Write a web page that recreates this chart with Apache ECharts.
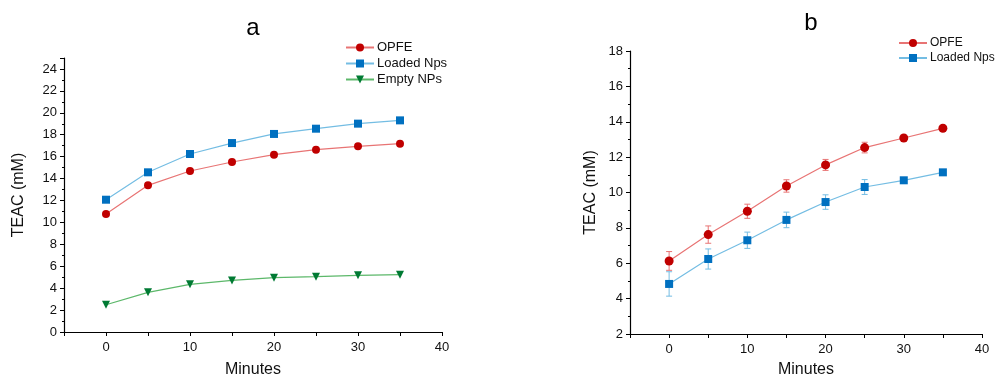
<!DOCTYPE html>
<html>
<head>
<meta charset="utf-8">
<script src="https://cdn.jsdelivr.net/npm/echarts@6/dist/echarts.min.js"></script>
<style>
  html, body { margin: 0; padding: 0; background: #fff; }
  #chart { width: 997px; height: 377px; }
</style>
</head>
<body>
<div id="chart"></div>
<script>
// minutes on x
var minutes = [0, 5, 10, 15, 20, 25, 30, 35];

// panel a
var aOpfe = [10.77, 13.38, 14.69, 15.51, 16.18, 16.64, 16.94, 17.18];
var aLoaded = [12.07, 14.57, 16.24, 17.24, 18.07, 18.55, 19.01, 19.31];
var aEmpty = [2.49, 3.62, 4.35, 4.71, 4.96, 5.05, 5.17, 5.23];

// panel b, with standard deviations
var bOpfe = [6.13, 7.62, 8.94, 10.37, 11.56, 12.54, 13.08, 13.63];
var bOpfeErr = [0.53, 0.49, 0.40, 0.35, 0.31, 0.30, 0.08, 0.06];
var bLoaded = [4.83, 6.24, 7.30, 8.45, 9.46, 10.31, 10.69, 11.14];
var bLoadedErr = [0.69, 0.57, 0.46, 0.44, 0.41, 0.42, 0.08, 0.06];

var RED = '#c00000', RED_L = '#e87474';
var BLUE = '#0070c0', BLUE_L = '#74bde3';
var GREEN = '#007a33', GREEN_L = '#5cb86a';
var FONT = 'Liberation Sans, Arial, sans-serif';

function pairs(ys) {
  return minutes.map(function (m, i) { return [m, ys[i]]; });
}
function errData(ys, es) {
  return minutes.map(function (m, i) { return [m, ys[i] - es[i], ys[i] + es[i]]; });
}
function errRender(color) {
  return function (params, api) {
    var lo = api.coord([api.value(0), api.value(1)]);
    var hi = api.coord([api.value(0), api.value(2)]);
    var w = 3;
    var st = { stroke: color, lineWidth: 1 };
    return {
      type: 'group',
      children: [
        { type: 'line', shape: { x1: lo[0], y1: lo[1], x2: hi[0], y2: hi[1] }, style: st },
        { type: 'line', shape: { x1: lo[0] - w, y1: lo[1], x2: lo[0] + w, y2: lo[1] }, style: st },
        { type: 'line', shape: { x1: hi[0] - w, y1: hi[1], x2: hi[0] + w, y2: hi[1] }, style: st }
      ]
    };
  };
}

var axisCommon = {
  axisLine: { show: true, onZero: false, lineStyle: { color: '#000', width: 1.2 } },
  axisTick: { show: true, length: 4, lineStyle: { color: '#000' } },
  minorTick: { show: true, splitNumber: 2, length: 2, lineStyle: { color: '#000' } },
  splitLine: { show: false },
  axisLabel: { color: '#111', fontSize: 13, fontFamily: FONT },
  nameTextStyle: { color: '#111', fontSize: 16, fontFamily: FONT }
};

function xAxis(idx, gap) {
  return Object.assign({}, axisCommon, {
    type: 'value', gridIndex: idx, min: -5, max: 40, interval: 5,
    minorTick: { show: false },
    name: 'Minutes', nameLocation: 'middle', nameGap: gap,
    axisLabel: Object.assign({}, axisCommon.axisLabel, {
      margin: 9,
      formatter: function (v) { return (v >= 0 && v % 10 === 0) ? String(v) : ''; }
    })
  });
}
function yAxis(idx, min, max, gap) {
  return Object.assign({}, axisCommon, {
    type: 'value', gridIndex: idx, min: min, max: max, interval: 2,
    name: 'TEAC (mM)', nameLocation: 'middle', nameGap: gap,
    axisLabel: Object.assign({}, axisCommon.axisLabel, {
      margin: 7,
      formatter: function (v) { return v % 2 === 0 ? String(v) : ''; }
    })
  });
}

function lineSeries(name, xi, data, mColor, lColor, symbol, size, rot) {
  return {
    name: name, type: 'line', xAxisIndex: xi, yAxisIndex: xi,
    data: data, symbol: symbol, symbolSize: size, symbolRotate: rot || 0, showSymbol: true,
    lineStyle: { color: lColor, width: 1.2 },
    itemStyle: { color: mColor },
    emphasis: { disabled: true },
    animation: false, z: 3
  };
}

var chart = echarts.init(document.getElementById('chart'));
chart.setOption({
  backgroundColor: '#fff',
  animation: false,
  title: [
    { text: 'a', left: 248, top: 11, textAlign: 'center',
      textStyle: { fontSize: 24, fontWeight: 'normal', color: '#000', fontFamily: FONT } },
    { text: 'b', left: 806, top: 6, textAlign: 'center',
      textStyle: { fontSize: 24, fontWeight: 'normal', color: '#000', fontFamily: FONT } }
  ],
  legend: [
    { orient: 'vertical', left: 340, top: 36, itemWidth: 28, itemHeight: 10, itemGap: 3,
      data: ['OPFE', 'Loaded Nps', 'Empty NPs'],
      textStyle: { fontSize: 13, color: '#111', fontFamily: FONT, padding: [0, 0, 0, -2] } },
    { orient: 'vertical', left: 893, top: 32, itemWidth: 28, itemHeight: 10, itemGap: 3,
      data: ['OPFE ', 'Loaded Nps '],
      textStyle: { fontSize: 12, color: '#111', fontFamily: FONT, padding: [0, 0, 0, -2] } }
  ],
  grid: [
    { left: 64, top: 58, width: 378, height: 274, outerBoundsMode: 'none', containLabel: false },
    { left: 630, top: 51, width: 352, height: 283, outerBoundsMode: 'none', containLabel: false }
  ],
  xAxis: [xAxis(0, 30), xAxis(1, 28)],
  yAxis: [yAxis(0, 0, 25, 37), yAxis(1, 2, 18, 31)],
  series: [
    lineSeries('OPFE', 0, pairs(aOpfe), RED, RED_L, 'circle', 8),
    lineSeries('Loaded Nps', 0, pairs(aLoaded), BLUE, BLUE_L, 'rect', 8),
    lineSeries('Empty NPs', 0, pairs(aEmpty), GREEN, GREEN_L, 'triangle', 8, 180),
    {
      type: 'custom', xAxisIndex: 1, yAxisIndex: 1, z: 2,
      renderItem: errRender(RED_L), data: errData(bOpfe, bOpfeErr),
      encode: { x: 0, y: [1, 2] }, silent: true
    },
    {
      type: 'custom', xAxisIndex: 1, yAxisIndex: 1, z: 2,
      renderItem: errRender(BLUE_L), data: errData(bLoaded, bLoadedErr),
      encode: { x: 0, y: [1, 2] }, silent: true
    },
    lineSeries('OPFE ', 1, pairs(bOpfe), RED, RED_L, 'circle', 9),
    lineSeries('Loaded Nps ', 1, pairs(bLoaded), BLUE, BLUE_L, 'rect', 8)
  ]
});
</script>
</body>
</html>
